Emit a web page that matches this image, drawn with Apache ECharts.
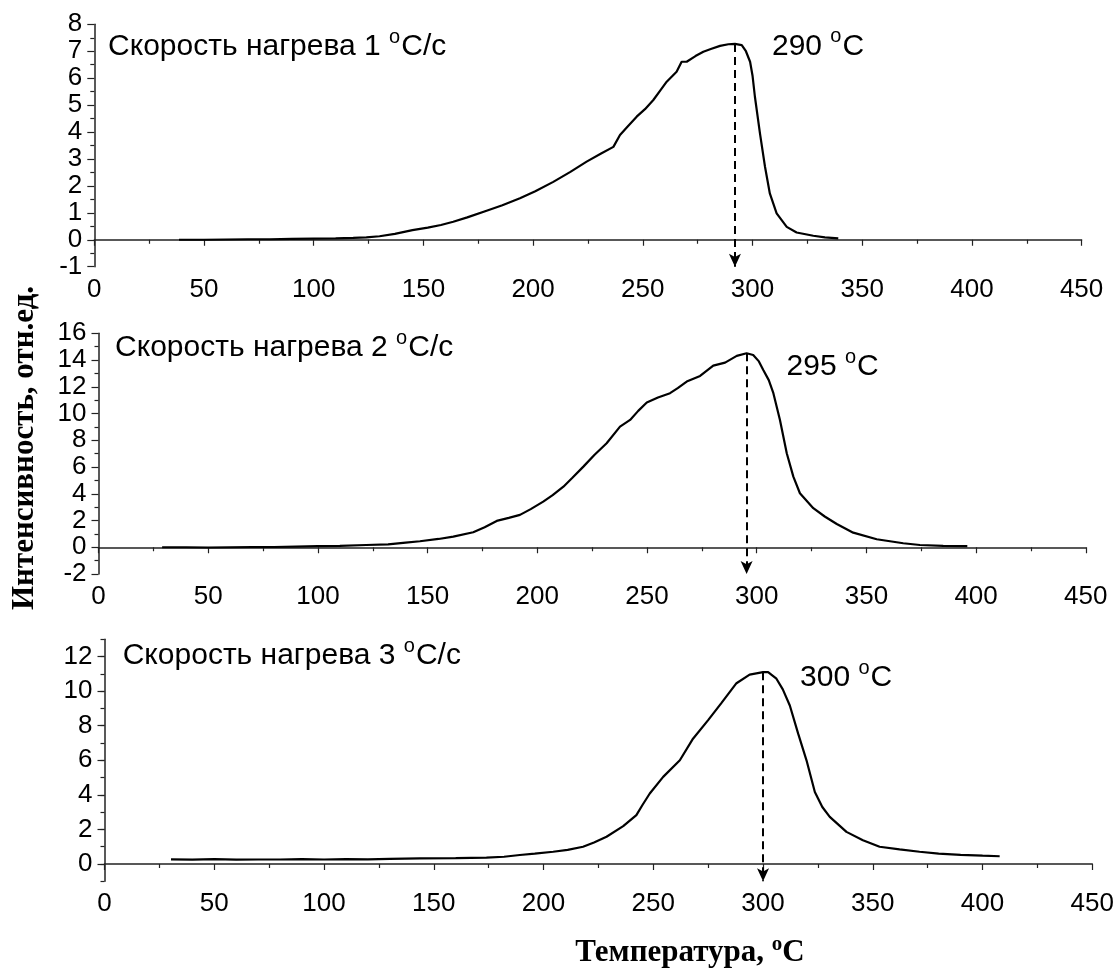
<!DOCTYPE html>
<html><head><meta charset="utf-8">
<script src="https://cdn.jsdelivr.net/npm/echarts@6/dist/echarts.min.js"></script>
<style>html,body{margin:0;padding:0;background:#fff}#c{width:1117px;height:969px}</style>
</head><body><div id="c"></div>
<script>
// ---- data ----
const xTicks = [0, 50, 100, 150, 200, 250, 300, 350, 400, 450];
const y3Ticks = [0, 2, 4, 6, 8, 10, 12];

const t1 = [38.6,50,60,70,80,90,100,110,118,124,130,137,145,152,158,163.6,170,178.8,186,194,201,209.2,217,224.4,231,236.6,239.6,243,247.2,251,254.8,258,260.9,265.4,267.7,270,274,277.6,281,285.2,289,292,295.1,297,298.9,300,301.1,303.4,305.7,307.9,311,315.6,320.1,327.7,333,339.1];
const i1 = [0.0,0.0,0.01,0.02,0.02,0.03,0.04,0.05,0.07,0.09,0.13,0.22,0.36,0.45,0.55,0.67,0.83,1.08,1.28,1.54,1.80,2.15,2.52,2.90,3.20,3.45,3.89,4.20,4.57,4.85,5.19,5.55,5.87,6.24,6.61,6.61,6.82,6.98,7.08,7.20,7.26,7.27,7.23,7.00,6.61,6.10,5.31,3.95,2.71,1.72,0.98,0.48,0.27,0.15,0.09,0.05];

const t2 = [29,40,50,60,70,80,90,100,110,122,132,140,146.5,155,161.7,170.8,176,181.5,187,192.1,197,202.7,207,211.9,216,221,226,231.6,237.7,242.3,246,249.9,255,260.5,264,268.1,274.2,280.2,285.6,290.9,295.4,298.4,301,303,305.5,307.6,310.6,313.7,316.7,319.7,325.8,331,336.5,344,354.7,366.8,374.4,385,396];
const i2 = [0.0,0.0,-0.02,0.0,0.02,0.02,0.05,0.08,0.10,0.17,0.22,0.35,0.45,0.62,0.79,1.12,1.50,1.97,2.20,2.42,2.85,3.41,3.90,4.53,5.20,6.03,6.90,7.78,9.02,9.52,10.20,10.82,11.20,11.52,11.90,12.39,12.81,13.58,13.81,14.31,14.51,14.38,13.90,13.26,12.50,11.52,9.52,7.03,5.28,4.04,2.92,2.30,1.74,1.09,0.60,0.30,0.17,0.10,0.08];

const t3 = [30.3,40,50,60,70,80,90,100,110,120,130,143.7,160,174,182,189.2,196,204.4,211,218,223,228.7,236.3,242.3,245,248.4,254.5,262.1,268.1,274.9,281,287.9,293.9,300,302.3,306.1,309,312.2,316,319.8,323.6,327,330.4,338,345.5,353.1,362.2,371.3,380,390,400,407.8];
const i3 = [0.27,0.25,0.28,0.25,0.26,0.26,0.28,0.26,0.28,0.27,0.30,0.33,0.34,0.37,0.42,0.52,0.60,0.71,0.82,1.00,1.25,1.58,2.19,2.83,3.40,4.08,5.04,6.00,7.25,8.31,9.31,10.46,10.96,11.10,11.10,10.72,10.10,9.17,7.54,6.00,4.17,3.30,2.73,1.86,1.38,1.00,0.85,0.71,0.60,0.53,0.48,0.45];

const peakT = [292, 295.4, 300];
const peakI = [7.27, 14.51, 11.10];
const peakText = ['290', '295', '300'];
const rateText = ['Скорость нагрева 1 ', 'Скорость нагрева 2 ', 'Скорость нагрева 3 '];
const yTitle = 'Интенсивность, отн.ед.';
const xTitle = 'Температура, ';

// ---- chart ----
const SANS = '"Liberation Sans", Arial, sans-serif';
const SERIF = '"Liberation Serif", "Times New Roman", serif';
const zip = (a, b) => a.map((v, k) => [v, b[k]]);
const ts = [t1, t2, t3], is = [i1, i2, i3];
const yMins = [-1, -2, -1];

const richSans = {
  a: { fontSize: 30, fontFamily: SANS, color: '#000' },
  s: { fontSize: 20, fontFamily: SANS, color: '#000', padding: [0, 1, 20, 0] }
};
const richSerif = {
  a: { fontSize: 31, fontFamily: SERIF, fontWeight: 'bold', color: '#000' },
  s: { fontSize: 21, fontFamily: SERIF, fontWeight: 'bold', color: '#000', padding: [0, 0, 16, 0] }
};

const axisLine = { show: true, lineStyle: { color: '#222', width: 1.5 } };
const lbl = { fontSize: 26, fontFamily: SANS, color: '#000' };

const grids = [
  { left: 94.3, top: 24.3, width: 987.3, height: 242.4 },
  { left: 98.5, top: 333.3, width: 987.3, height: 240.7 },
  { left: 104.5, top: 639.3, width: 988, height: 242 }
];

const xAxes = grids.map((g, k) => ({
  type: 'value', gridIndex: k, min: xTicks[0], max: xTicks[xTicks.length - 1], interval: 50,
  axisLine, axisTick: { show: true, length: 6, lineStyle: { color: '#222', width: 1.2 } },
  minorTick: { show: true, splitNumber: 2, length: 4, lineStyle: { color: '#222', width: 1.2 } },
  axisLabel: Object.assign({ margin: 10 }, lbl),
  splitLine: { show: false }, minorSplitLine: { show: false }
}));

const tickStyle = { color: '#222', width: 1.2 };
const yAxes = [
  { type: 'value', gridIndex: 0, position: 'left', min: -1, max: 8, interval: 1, axisLine,
    axisTick: { length: 7, lineStyle: tickStyle },
    minorTick: { show: true, splitNumber: 2, length: 4, lineStyle: tickStyle },
    axisLabel: Object.assign({ margin: 12 }, lbl), splitLine: { show: false } },
  { type: 'value', gridIndex: 1, position: 'left', min: -2, max: 16, interval: 2, axisLine,
    axisTick: { length: 7, lineStyle: tickStyle },
    minorTick: { show: true, splitNumber: 2, length: 4, lineStyle: tickStyle },
    axisLabel: Object.assign({ margin: 12 }, lbl), splitLine: { show: false } },
  { type: 'value', gridIndex: 2, position: 'left', min: -1, max: 13, interval: 1, axisLine,
    axisTick: { length: 4, lineStyle: tickStyle },
    axisLabel: { show: false }, splitLine: { show: false } },
  { type: 'value', gridIndex: 2, position: 'left', offset: 0, min: -1, max: 13, axisLine: { show: false },
    axisTick: { show: true, length: 7, lineStyle: tickStyle, customValues: y3Ticks },
    axisLabel: Object.assign({ margin: 12, customValues: y3Ticks }, lbl), splitLine: { show: false } }
];

const series = [0, 1, 2].map(k => ({
  type: 'line', xAxisIndex: k, yAxisIndex: k, data: zip(ts[k], is[k]),
  showSymbol: false, symbol: 'none', smooth: false, clip: false,
  lineStyle: { color: '#000', width: 2.2 }, silent: true, animation: false,
  markLine: {
    silent: true, animation: false, symbol: ['none', 'arrow'], symbolSize: [9, 13],
    lineStyle: { color: '#000', width: 2, type: [8, 5] }, label: { show: false },
    data: [[{ coord: [peakT[k], peakI[k]] }, { coord: [peakT[k], yMins[k]] }]]
  },
  markPoint: {
    silent: true, animation: false, symbol: 'circle', symbolSize: 1,
    itemStyle: { color: 'rgba(0,0,0,0)' },
    data: [{ coord: [peakT[k], peakI[k]] }],
    label: {
      show: true, position: 'inside', align: 'left', verticalAlign: 'middle',
      offset: [[37, 3], [40, 14], [37, 6]][k],
      formatter: '{a|' + peakText[k] + ' }{s|o}{a|C}', rich: richSans
    }
  }
}));

const rateXY = [[108, 47], [115, 348], [122.7, 656]];
const graphic = rateXY.map((p, k) => ({
  type: 'text', x: p[0], y: p[1], silent: true,
  style: { text: '{a|' + rateText[k] + '}{s|o}{a|C/c}', rich: richSans,
           align: 'left', verticalAlign: 'middle', textAlign: 'left', textVerticalAlign: 'middle' }
}));
graphic.push({
  type: 'text', x: 25, y: 448, rotation: Math.PI / 2, silent: true,
  style: { text: yTitle, font: 'bold 31px ' + SERIF, fill: '#000',
           align: 'center', verticalAlign: 'middle', textAlign: 'center', textVerticalAlign: 'middle' }
});
graphic.push({
  type: 'text', x: 690, y: 953, silent: true,
  style: { text: '{a|' + xTitle + '}{s|o}{a|C}', rich: richSerif,
           align: 'center', verticalAlign: 'middle', textAlign: 'center', textVerticalAlign: 'middle' }
});

const chart = echarts.init(document.getElementById('c'), null, { renderer: 'canvas' });
chart.setOption({
  animation: false, backgroundColor: '#fff',
  grid: grids, xAxis: xAxes, yAxis: yAxes, series, graphic
});
</script></body></html>
